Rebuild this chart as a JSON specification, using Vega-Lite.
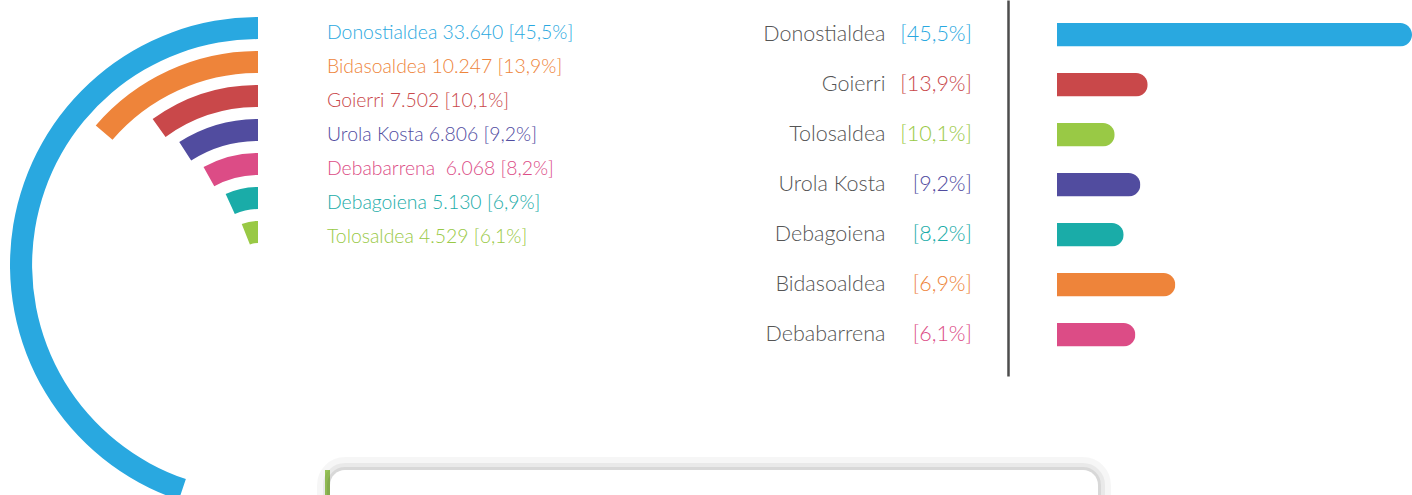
{
  "$schema": "https://vega.github.io/schema/vega-lite/v6.json",
  "padding": 0,
  "spacing": 0,
  "columns": 3,
  "align": "none",
  "bounds": "flush",
  "config": {"view": {"stroke": null}, "font": "Lato", "concat": {"spacing": 0}},
  "datasets": {
    "regions": [
      {"region": "Donostialdea", "count": 33640, "pct": 45.5, "label": "Donostialdea 33.640 [45,5%]"},
      {"region": "Bidasoaldea", "count": 10247, "pct": 13.9, "label": "Bidasoaldea 10.247 [13,9%]"},
      {"region": "Goierri", "count": 7502, "pct": 10.1, "label": "Goierri 7.502 [10,1%]"},
      {"region": "Urola Kosta", "count": 6806, "pct": 9.2, "label": "Urola Kosta 6.806 [9,2%]"},
      {"region": "Debabarrena", "count": 6068, "pct": 8.2, "label": "Debabarrena\u00a0 6.068 [8,2%]"},
      {"region": "Debagoiena", "count": 5130, "pct": 6.9, "label": "Debagoiena 5.130 [6,9%]"},
      {"region": "Tolosaldea", "count": 4529, "pct": 6.1, "label": "Tolosaldea 4.529 [6,1%]"}
    ],
    "bars": [
      {"name": "Donostialdea", "pctLabel": "[45,5%]", "bar": 45.5},
      {"name": "Goierri", "pctLabel": "[13,9%]", "bar": 11.63},
      {"name": "Tolosaldea", "pctLabel": "[10,1%]", "bar": 7.4},
      {"name": "Urola Kosta", "pctLabel": "[9,2%]", "bar": 10.69},
      {"name": "Debagoiena", "pctLabel": "[8,2%]", "bar": 8.55},
      {"name": "Bidasoaldea", "pctLabel": "[6,9%]", "bar": 15.17},
      {"name": "Debabarrena", "pctLabel": "[6,1%]", "bar": 10.05}
    ]
  },
  "concat": [
    {
      "width": 325,
      "height": 470,
      "data": {"name": "regions"},
      "layer": [
        {
          "mark": {"type": "arc", "xOffset": 95.5, "yOffset": 30},
          "encoding": {
            "theta": {"field": "pct", "type": "quantitative", "stack": null, "scale": {"domain": [0, 101.5], "range": [6.2832, 0], "nice": false}},
            "radius": {"field": "region", "type": "nominal", "scale": {"type": "band", "domain": ["Tolosaldea", "Debagoiena", "Debabarrena", "Urola Kosta", "Goierri", "Bidasoaldea", "Donostialdea"], "range": [22, 248], "paddingInner": 0.35, "paddingOuter": 0}},
            "color": {"field": "region", "type": "nominal", "legend": null, "scale": {"domain": ["Donostialdea", "Bidasoaldea", "Goierri", "Urola Kosta", "Debabarrena", "Debagoiena", "Tolosaldea"], "range": ["#29a8e0", "#ee843a", "#c9484a", "#514c9f", "#dc4c86", "#1aaca8", "#99c945"]}}
          }
        },
        {
          "mark": {"type": "text", "align": "left", "baseline": "middle", "dx": 69, "dy": 5, "xOffset": 95.5, "yOffset": 30, "font": "Lato", "fontSize": 19.4, "fontWeight": 300},
          "encoding": {
            "theta": {"value": 0},
            "radius": {"field": "region", "type": "nominal", "scale": {"type": "band", "domain": ["Tolosaldea", "Debagoiena", "Debabarrena", "Urola Kosta", "Goierri", "Bidasoaldea", "Donostialdea"], "range": [22, 248], "paddingInner": 0.35, "paddingOuter": 0}},
            "text": {"field": "label"},
            "color": {"field": "region", "type": "nominal", "legend": null, "scale": {"domain": ["Donostialdea", "Bidasoaldea", "Goierri", "Urola Kosta", "Debabarrena", "Debagoiena", "Tolosaldea"], "range": ["#29a8e0", "#ee843a", "#c9484a", "#514c9f", "#dc4c86", "#1aaca8", "#99c945"]}}
          }
        }
      ]
    },
    {
      "width": 5,
      "height": 470,
      "data": {"values": [{}]},
      "mark": {"type": "text"},
      "encoding": {"text": {"value": ""}}
    },
    {
      "width": 1082,
      "height": 470,
      "data": {"name": "bars"},
      "encoding": {
        "y": {
          "field": "name", "type": "nominal",
          "scale": {"type": "band", "domain": ["Donostialdea", "Goierri", "Tolosaldea", "Urola Kosta", "Debagoiena", "Bidasoaldea", "Debabarrena"], "range": [0, 376], "paddingInner": 0.53, "paddingOuter": 0.525, "align": 0.44},
          "axis": {"orient": "left", "offset": -678, "title": null, "ticks": false, "tickSize": 0, "grid": false, "labelPadding": 123, "labelFont": "Lato", "labelFontSize": 21.5, "labelFontWeight": 300, "labelColor": "#555555", "labelAlign": "right", "labelBaseline": "middle", "labelLimit": 300, "domainColor": "#4d4d4d", "domainWidth": 2.5}
        }
      },
      "layer": [
        {
          "mark": {"type": "bar", "cornerRadiusEnd": 11.75},
          "encoding": {
            "x": {"field": "bar", "type": "quantitative", "axis": null, "scale": {"domain": [0, 45.5], "range": [727, 1082], "nice": false, "zero": false}},
            "color": {"field": "name", "type": "nominal", "legend": null, "scale": {"domain": ["Donostialdea", "Bidasoaldea", "Goierri", "Urola Kosta", "Debabarrena", "Debagoiena", "Tolosaldea"], "range": ["#29a8e0", "#ee843a", "#c9484a", "#514c9f", "#dc4c86", "#1aaca8", "#99c945"]}}
          }
        },
        {
          "mark": {"type": "text", "align": "right", "baseline": "middle", "dx": -85, "font": "Lato", "fontSize": 21.5, "fontWeight": 300},
          "encoding": {
            "x": {"datum": 0},
            "text": {"field": "pctLabel"},
            "color": {"field": "name", "type": "nominal", "legend": null, "scale": {"domain": ["Donostialdea", "Bidasoaldea", "Goierri", "Urola Kosta", "Debabarrena", "Debagoiena", "Tolosaldea"], "range": ["#29a8e0", "#ee843a", "#c9484a", "#514c9f", "#dc4c86", "#1aaca8", "#99c945"]}}
          }
        }
      ]
    },
    {
      "width": 325,
      "height": 30,
      "data": {"values": [{}]},
      "mark": {"type": "text"},
      "encoding": {"text": {"value": ""}}
    },
    {
      "width": 5,
      "height": 40,
      "view": {"fill": "#9dcb5c", "stroke": null},
      "data": {"values": [{}]},
      "mark": {"type": "text"},
      "encoding": {"text": {"value": ""}}
    },
    {
      "width": 768,
      "height": 60,
      "data": {"values": [{}]},
      "layer": [
        {"mark": {"type": "rect", "fill": null, "stroke": "#000000", "strokeOpacity": 0.035, "strokeWidth": 26, "cornerRadius": 15}, "encoding": {}},
        {"mark": {"type": "rect", "fill": null, "stroke": "#000000", "strokeOpacity": 0.05, "strokeWidth": 14, "cornerRadius": 15}, "encoding": {}},
        {"mark": {"type": "rect", "fill": null, "stroke": "#000000", "strokeOpacity": 0.07, "strokeWidth": 6, "cornerRadius": 15}, "encoding": {}},
        {"mark": {"type": "rect", "fill": "#ffffff", "stroke": null, "cornerRadius": 15}, "encoding": {}}
      ]
    }
  ]
}
